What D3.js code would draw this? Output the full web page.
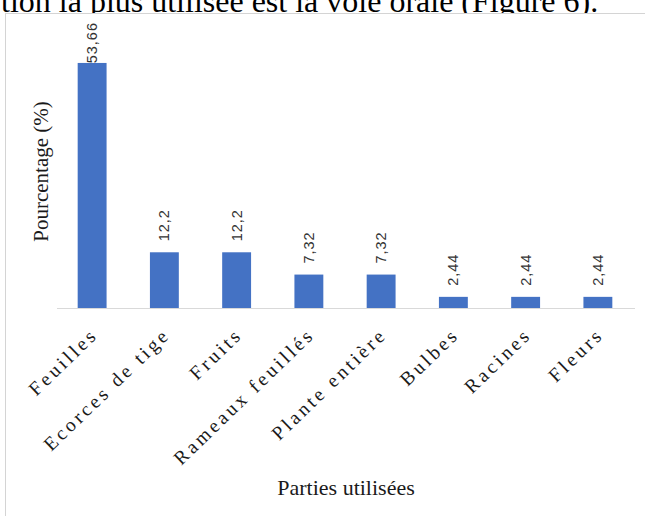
<!DOCTYPE html>
<html lang="fr">
<head>
<meta charset="utf-8">
<script src="https://cdn.jsdelivr.net/npm/d3@7"></script>
<style>
  html, body { margin: 0; padding: 0; background: #fff; }
  svg { display: block; }
</style>
</head>
<body>
<svg id="chart" width="645" height="516"></svg>
<script>
// Parties de plantes utilisées (%)
const categories = ["Feuilles", "Ecorces de tige", "Fruits", "Rameaux feuillés",
                    "Plante entière", "Bulbes", "Racines", "Fleurs"];
const values = [53.66, 12.2, 12.2, 7.32, 7.32, 2.44, 2.44, 2.44];
const valueLabels = ["53,66", "12,2", "12,2", "7,32", "7,32", "2,44", "2,44", "2,44"];
const yDomain = [0, 60];

const svg = d3.select("#chart");
const W = 645, H = 516;
const plot = { left: 56, right: 634, top: 34, bottom: 308 };

// Running text line of the document, cut by the top edge
svg.append("text")
  .attr("x", 1).attr("y", 12)
  .attr("font-family", "Liberation Serif, Times New Roman, serif")
  .attr("font-size", 32)
  .attr("fill", "#000")
  .text("tion la plus utilisée est la voie orale (Figure 6).");

// Chart frame
svg.append("rect")
  .attr("x", 5.5).attr("y", 13.5)
  .attr("width", W + 20).attr("height", H + 20)
  .attr("fill", "#fff")
  .attr("stroke", "#d4d4d4").attr("stroke-width", 1);

const x = d3.scaleBand()
  .domain(categories)
  .range([plot.left, plot.right])
  .paddingInner(0.6)
  .paddingOuter(0.3);

const y = d3.scaleLinear()
  .domain(yDomain)
  .range([plot.bottom, plot.top]);

const data = categories.map((c, i) => ({ cat: c, v: values[i], label: valueLabels[i] }));

// Bars
svg.append("g")
  .selectAll("rect")
  .data(data)
  .join("rect")
  .attr("x", d => x(d.cat))
  .attr("y", d => y(d.v))
  .attr("width", x.bandwidth())
  .attr("height", d => y(0) - y(d.v))
  .attr("fill", "#4472C4");

// Baseline axis
const xAxis = d3.axisBottom(x).tickSize(0).tickFormat("");
const gx = svg.append("g")
  .attr("transform", `translate(0,${y(0) + 0.5})`)
  .call(xAxis);
gx.select(".domain")
  .attr("d", `M${plot.left + 1},0H${plot.right + 1}`)
  .attr("stroke", "#d9d9d9").attr("stroke-width", 1.2);

// Category labels, slanted
svg.append("g")
  .selectAll("text")
  .data(data)
  .join("text")
  .attr("transform", d => `translate(${x(d.cat) + x.bandwidth() / 2 + 7},${y(0) + 28}) rotate(-44)`)
  .attr("text-anchor", "end")
  .attr("font-family", "Liberation Serif, Times New Roman, serif")
  .attr("font-size", 19.5)
  .attr("letter-spacing", "3.2px")
  .attr("fill", "#1a1a1a")
  .text(d => d.cat);

// Value labels, vertical, kept inside the plot area
const gap = 11;
svg.append("g")
  .selectAll("text")
  .data(data)
  .join("text")
  .attr("font-family", "Liberation Sans, Arial, sans-serif")
  .attr("font-size", 14.5)
  .attr("letter-spacing", "1px")
  .attr("fill", "#333")
  .attr("dominant-baseline", "central")
  .text(d => d.label)
  .each(function (d) {
    const len = this.getComputedTextLength();
    const cx = x(d.cat) + x.bandwidth() / 2;
    const start = Math.max(y(d.v) - gap, 22 + len);
    d3.select(this).attr("transform", `translate(${cx},${start}) rotate(-90)`);
  });

// Axis titles
svg.append("text")
  .attr("transform", `translate(47.5,${171.5}) rotate(-90)`)
  .attr("text-anchor", "middle")
  .attr("font-family", "Liberation Serif, Times New Roman, serif")
  .attr("font-size", 21)
  .attr("fill", "#1a1a1a")
  .text("Pourcentage (%)");

svg.append("text")
  .attr("x", (plot.left + plot.right) / 2 + 1)
  .attr("y", 495)
  .attr("text-anchor", "middle")
  .attr("font-family", "Liberation Serif, Times New Roman, serif")
  .attr("font-size", 22)
  .attr("fill", "#1a1a1a")
  .text("Parties utilisées");
</script>
</body>
</html>
